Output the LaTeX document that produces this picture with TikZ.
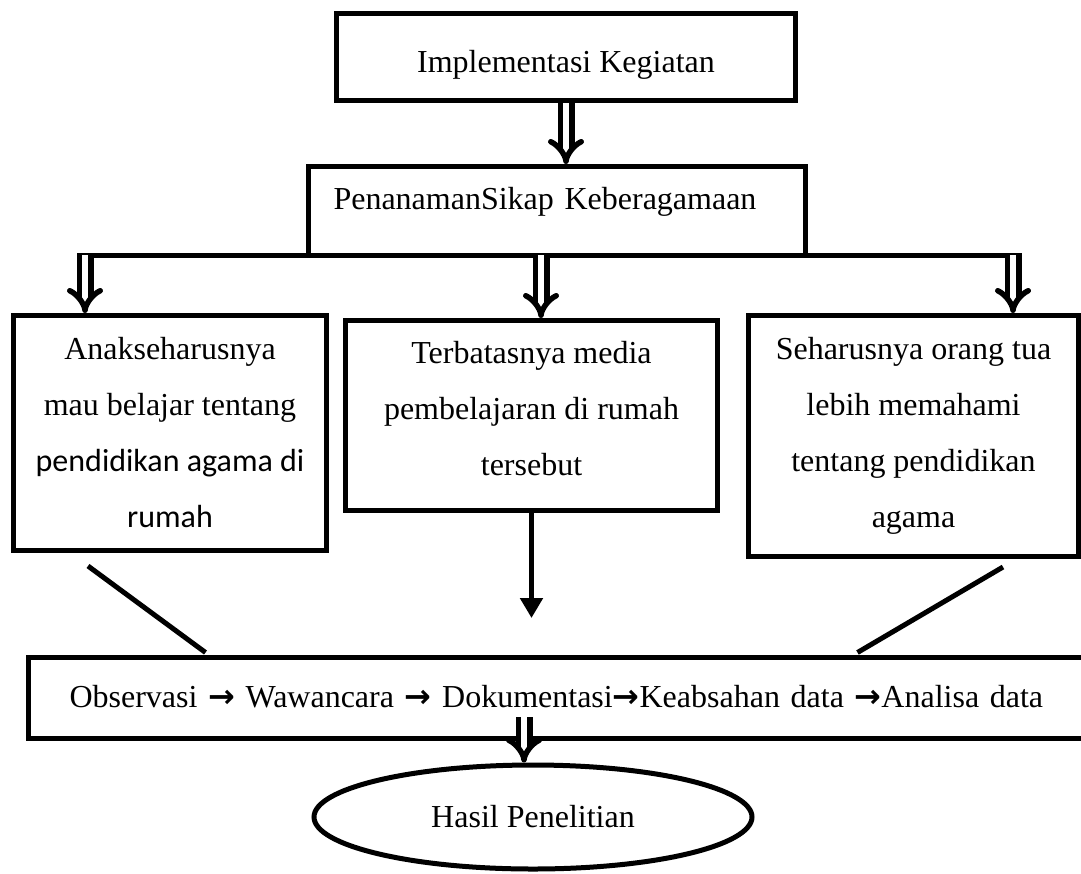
\documentclass[tikz,border=0pt]{standalone}
\usepackage{fontspec}
\setmainfont{Liberation Serif}
\newfontfamily\calibri{Carlito}
\newfontfamily\panahfont{DejaVu Sans}
\newcommand{\panah}{{\panahfont\bfseries →}}
\usetikzlibrary{arrows.meta,shapes.geometric}

\begin{document}
\begin{tikzpicture}[x=1pt,y=-1pt,
  kotak/.style={draw,line width=5pt,inner sep=0pt,align=center,anchor=north west,font=\fontsize{32}{56}\selectfont},
  panahganda/.style={double,line width=5.5pt,double distance=6pt,-{Implies}},
  garis/.style={line width=5pt}]
  \useasboundingbox (0,0) rectangle (1081,873);
  \node [kotak,minimum width=459pt,minimum height=87pt,text height=59pt,text depth=28pt] (impl) at (334,11) {Implementasi Kegiatan};
  \node [kotak,minimum width=497pt,minimum height=89pt,inner xsep=25pt,text width=447pt,align=left,text height=43pt,text depth=46pt] (pen) at (306,164) {PenanamanSikap Keberagamaan};
  \node [kotak,minimum width=313pt,minimum height=235pt] (anak) at (11,313) {Anakseharusnya\\mau belajar tentang\\{\calibri pendidikan agama di}\\{\calibri rumah}};
  \node [kotak,minimum width=372pt,minimum height=190pt,text depth=14pt] (media) at (343,318) {Terbatasnya media\\pembelajaran di rumah\\tersebut};
  \node [kotak,minimum width=330pt,minimum height=241pt] (ortu) at (746,313) {Seharusnya orang tua\\lebih memahami\\tentang pendidikan\\agama};
  \node [kotak,minimum width=1067pt,minimum height=81pt,inner xsep=41pt,text width=985pt,align=left,text height=50pt,text depth=31pt] (obs) at (26,655) {Observasi \panah{} Wawancara \panah{} Dokumentasi\panah{}Keabsahan data \panah{}Analisa data};
  \node [draw,ellipse,line width=5pt,inner sep=0pt,minimum width=438pt,minimum height=104pt,font=\fontsize{32}{38}\selectfont] (hasil) at (533,817) {Hasil Penelitian};

  \coordinate (kiri) at (77,255);
  \coordinate (kanan) at (1022,255);
  \coordinate (c1) at (85,255);
  \coordinate (c2) at (541,255);
  \coordinate (c3) at (1013,255);
  \coordinate (c4) at (524,717);
  \coordinate (ujung) at (531,618);
  \coordinate (d1) at (88,566);
  \coordinate (d2) at (1003,567);

  \draw [panahganda] (impl.south) -- (impl.south |- pen.north);
  \draw [garis] (kiri) -- (kanan);
  \draw [panahganda] (c1) -- (c1 |- anak.north);
  \draw [panahganda] (c2) -- (c2 |- media.north);
  \draw [panahganda] (c3) -- (c3 |- ortu.north);
  \draw [garis,-{Triangle[length=20pt,width=22pt]}] (media.south) -- (media.south |- ujung);
  \draw [garis] (d1) -- ([xshift=179.5pt,yshift=2.5pt]obs.north west);
  \draw [garis] (d2) -- ([xshift=831.5pt,yshift=2.5pt]obs.north west);
  \draw [panahganda] (c4) -- (c4 |- hasil.north);
\end{tikzpicture}
\end{document}
